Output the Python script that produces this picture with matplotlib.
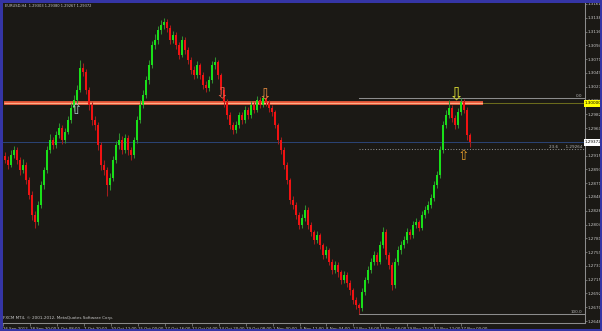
import matplotlib
matplotlib.use("Agg")
import matplotlib.pyplot as plt
import matplotlib.transforms as mtransforms
from matplotlib.patches import Rectangle
import numpy as np

# EURUSD H4, prices
first_open = 1.2915
closes = [
    1.2909, 1.2901, 1.2917, 1.2925, 1.2909, 1.2892, 1.2901, 1.2876, 1.2852, 1.2820,
    1.2808, 1.2836, 1.2868, 1.2892, 1.2925, 1.2941, 1.2933, 1.2949, 1.2960, 1.2941,
    1.2954, 1.2973, 1.2993, 1.3006, 1.3022, 1.3057, 1.3051, 1.3022, 1.2998, 1.2973,
    1.2965, 1.2933, 1.2901, 1.2892, 1.2868, 1.2880, 1.2909, 1.2933, 1.2941, 1.2925,
    1.2944, 1.2925, 1.2917, 1.2941, 1.2973, 1.2998, 1.3014, 1.3038, 1.3062, 1.3095,
    1.3103, 1.3119, 1.3127, 1.3132, 1.3122, 1.3103, 1.3111, 1.3095, 1.3079, 1.3103,
    1.3087, 1.3070, 1.3054, 1.3046, 1.3062, 1.3046, 1.3030, 1.3025, 1.3038, 1.3062,
    1.3067, 1.3046, 1.3022, 1.3002, 1.2981, 1.2965, 1.2957, 1.2965, 1.2981, 1.2973,
    1.2990, 1.2981, 1.2998, 1.2990, 1.3006, 1.2998, 1.3009, 1.3001, 1.2993, 1.2986,
    1.2965, 1.2941, 1.2925, 1.2901, 1.2876, 1.2844, 1.2836, 1.2820, 1.2803, 1.2815,
    1.2828, 1.2803, 1.2792, 1.2779, 1.2787, 1.2771, 1.2755, 1.2763, 1.2744, 1.2731,
    1.2739, 1.2727, 1.2714, 1.2723, 1.2710, 1.2698, 1.2682, 1.2674, 1.2669, 1.2695,
    1.2714, 1.2731, 1.2744, 1.2755, 1.2744, 1.2771, 1.2792, 1.2755, 1.2739, 1.2706,
    1.2744, 1.2763, 1.2771, 1.2779, 1.2792, 1.2787, 1.2803, 1.2808, 1.2799, 1.2820,
    1.2828, 1.2836, 1.2847, 1.2868, 1.2884, 1.2925, 1.2965, 1.2981, 1.2993, 1.2977,
    1.2965, 1.2986, 1.3002, 1.2990, 1.2949, 1.2937]
highs = [
    1.2921, 1.2915, 1.2925, 1.2931, 1.2929, 1.2914, 1.2910, 1.2905, 1.2881, 1.2858,
    1.2826, 1.2842, 1.2875, 1.2898, 1.2932, 1.2950, 1.2946, 1.2955, 1.2968, 1.2965,
    1.2961, 1.2979, 1.3001, 1.3013, 1.3030, 1.3070, 1.3066, 1.3056, 1.3027, 1.3003,
    1.2980, 1.2970, 1.2938, 1.2908, 1.2897, 1.2887, 1.2915, 1.2940, 1.2952, 1.2947,
    1.2950, 1.2949, 1.2930, 1.2946, 1.2980, 1.3005, 1.3022, 1.3044, 1.3070, 1.3101,
    1.3112, 1.3126, 1.3135, 1.3139, 1.3136, 1.3127, 1.3118, 1.3116, 1.3100, 1.3110,
    1.3108, 1.3092, 1.3076, 1.3060, 1.3068, 1.3066, 1.3051, 1.3036, 1.3044, 1.3068,
    1.3075, 1.3071, 1.3050, 1.3026, 1.3007, 1.2986, 1.2970, 1.2971, 1.2987, 1.2986,
    1.2996, 1.2995, 1.3004, 1.3003, 1.3012, 1.3010, 1.3014, 1.3016, 1.3005, 1.2998,
    1.2990, 1.2969, 1.2946, 1.2930, 1.2905, 1.2880, 1.2850, 1.2840, 1.2825, 1.2821,
    1.2835, 1.2832, 1.2808, 1.2796, 1.2793, 1.2791, 1.2775, 1.2769, 1.2767, 1.2749,
    1.2745, 1.2743, 1.2731, 1.2729, 1.2727, 1.2714, 1.2702, 1.2687, 1.2678, 1.2701,
    1.2720, 1.2737, 1.2750, 1.2762, 1.2759, 1.2777, 1.2800, 1.2797, 1.2760, 1.2743,
    1.2750, 1.2769, 1.2777, 1.2786, 1.2798, 1.2797, 1.2810, 1.2815, 1.2812, 1.2826,
    1.2834, 1.2843, 1.2853, 1.2874, 1.2890, 1.2932, 1.2971, 1.2990, 1.3005, 1.2998,
    1.2982, 1.2992, 1.3009, 1.3007, 1.2994, 1.2953]
lows = [
    1.2903, 1.2894, 1.2897, 1.2912, 1.2902, 1.2885, 1.2887, 1.2870, 1.2846, 1.2812,
    1.2799, 1.2803, 1.2831, 1.2862, 1.2888, 1.2920, 1.2926, 1.2928, 1.2944, 1.2935,
    1.2936, 1.2950, 1.2968, 1.2988, 1.3001, 1.3018, 1.3044, 1.3015, 1.2990, 1.2966,
    1.2957, 1.2925, 1.2893, 1.2884, 1.2850, 1.2860, 1.2875, 1.2904, 1.2927, 1.2918,
    1.2920, 1.2917, 1.2908, 1.2912, 1.2936, 1.2969, 1.2993, 1.3009, 1.3032, 1.3057,
    1.3088, 1.3097, 1.3112, 1.3120, 1.3115, 1.3096, 1.3098, 1.3088, 1.3072, 1.3075,
    1.3080, 1.3064, 1.3047, 1.3040, 1.3041, 1.3039, 1.3024, 1.3018, 1.3020, 1.3033,
    1.3056, 1.3040, 1.3016, 1.2995, 1.2975, 1.2958, 1.2950, 1.2952, 1.2960, 1.2967,
    1.2969, 1.2975, 1.2977, 1.2984, 1.2986, 1.2992, 1.2994, 1.2996, 1.2987, 1.2980,
    1.2960, 1.2935, 1.2918, 1.2894, 1.2869, 1.2838, 1.2829, 1.2813, 1.2797, 1.2798,
    1.2810, 1.2797, 1.2786, 1.2772, 1.2774, 1.2765, 1.2748, 1.2750, 1.2738, 1.2724,
    1.2726, 1.2720, 1.2708, 1.2709, 1.2703, 1.2691, 1.2676, 1.2667, 1.2659, 1.2664,
    1.2690, 1.2709, 1.2726, 1.2739, 1.2738, 1.2740, 1.2766, 1.2749, 1.2732, 1.2698,
    1.2701, 1.2739, 1.2757, 1.2766, 1.2774, 1.2781, 1.2783, 1.2798, 1.2793, 1.2795,
    1.2815, 1.2823, 1.2831, 1.2842, 1.2863, 1.2880, 1.2920, 1.2960, 1.2976, 1.2970,
    1.2958, 1.2960, 1.2982, 1.2984, 1.2941, 1.2930]

price_ticks = [1.31610, 1.31387, 1.31164, 1.30941, 1.30718, 1.30495, 1.30272, 1.30049,
               1.29826, 1.29603, 1.29380, 1.29157, 1.28934, 1.28711, 1.28488, 1.28265,
               1.28042, 1.27819, 1.27596, 1.27373, 1.27150, 1.26927, 1.26704, 1.26481]
time_bars = [0, 9, 18, 27, 36, 45, 54, 63, 72, 81, 90, 99, 108, 117, 126, 135, 144, 153]
time_labels = ["26 Sep 2012", "28 Sep 20:00", "3 Oct 08:00", "7 Oct 20:00", "10 Oct 12:00",
               "15 Oct 00:00", "17 Oct 16:00", "22 Oct 04:00", "24 Oct 20:00", "29 Oct 08:00",
               "1 Nov 00:00", "5 Nov 12:00", "8 Nov 04:00", "12 Nov 16:00", "15 Nov 08:00",
               "19 Nov 20:00", "22 Nov 12:00", "27 Nov 00:00"]

header = "EURUSD,H4  1.29303 1.29380 1.29267 1.29372"
credit = "FXCM MT4, \u00a9 2001-2012, MetaQuotes Software Corp."

level_price = 1.30000
level_end_bar = 159.5
bid_price = 1.29372
fib_start_bar = 118
fib_prices = [1.30089, 1.29264, 1.26594]
fib_names = ["0.0", "23.6", "100.0"]

# signal arrows: bar, price, glyph, colour, size
arrow_bars = [23.5, 72.2, 86.5, 150.5, 152.8]
arrow_prices = [1.29905, 1.30160, 1.30145, 1.30150, 1.29150]
arrow_glyphs = ["\u21e7", "\u21e9", "\u21e9", "\u21e9", "\u21e7"]
arrow_colors = ["#a9c3c3", "#e0604a", "#e08840", "#d4d431", "#e09a2a"]
arrow_sizes = [11, 11, 11, 13, 10]

bg = "#1b1915"
grey = "#8c8c8c"
txt = "#c8c8c8"
fs = 3.0

fig = plt.figure(figsize=(6.02, 3.31), dpi=100, facecolor=bg)
ax = fig.add_axes([3 / 602, 8 / 331, 582 / 602, 321 / 331])
ax.set_facecolor(bg)

c = np.array(closes)
h = np.array(highs)
l = np.array(lows)
o = np.array([first_open] + closes[:-1])
x = np.arange(len(c))
up = c >= o

ax.vlines(x[up], l[up], h[up], color="#2f8f2f", lw=0.75, zorder=3)
ax.vlines(x[~up], l[~up], h[~up], color="#a51c1c", lw=0.75, zorder=3)
ax.bar(x[up], (c - o)[up], bottom=o[up], width=0.67, color="#19e019", lw=0, zorder=4)
ax.bar(x[~up], (c - o)[~up], bottom=o[~up], width=0.67, color="#f01212", lw=0, zorder=4)

# horizontal levels
ax.plot([-0.5, level_end_bar], [level_price, level_price], color="#ee5a3a", lw=2.7,
        solid_capstyle="butt", zorder=2)
ax.plot([-0.5, level_end_bar], [level_price, level_price], color="#ffae88", lw=0.8,
        solid_capstyle="butt", zorder=2)
ax.plot([level_end_bar, 193.5], [level_price, level_price], color="#6b6b1c", lw=0.75, zorder=2)
ax.axhline(bid_price, color="#2a4272", lw=0.75, zorder=1)

trans = mtransforms.blended_transform_factory(ax.transAxes, ax.transData)
for price, name in zip(fib_prices, fib_names):
    ls = ":" if name == "23.6" else "-"
    ax.plot([fib_start_bar, 193.5], [price, price], color=grey, lw=0.75, ls=ls, zorder=2)
    label = name if name != "23.6" else "23.6      %.5f" % price
    ax.text(0.996, price + 0.00006, label, transform=trans, ha="right", va="bottom",
            fontsize=fs, color="#b4b4b4")

for bx, bp, g, col, sz in zip(arrow_bars, arrow_prices, arrow_glyphs, arrow_colors, arrow_sizes):
    ax.text(bx, bp, g, ha="center", va="center", fontsize=sz, color=col, zorder=6)

ax.set_xlim(-0.5, 193.5)
ax.set_ylim(1.26449, 1.31642)

for side in ["top", "left"]:
    ax.spines[side].set_visible(False)
for side in ["right", "bottom"]:
    ax.spines[side].set_color(grey)
    ax.spines[side].set_linewidth(0.75)

# the bid tag hides the scale label underneath it
ax.yaxis.tick_right()
ax.set_yticks(price_ticks)
ax.set_yticklabels(["" if abs(p - bid_price) < 0.0005 else "%.5f" % p for p in price_ticks],
                   fontsize=fs, color=txt)
ax.tick_params(axis="y", length=1.5, width=0.5, color=grey, pad=0.6)

ax.set_xticks([b - 0.8 for b in time_bars])
ax.set_xticklabels(time_labels, fontsize=2.8, color=txt, ha="left")
ax.tick_params(axis="x", length=2.5, width=0.5, color=grey, pad=0.2)

# price tags on the scale
ax.text(1.0, level_price, "%.5f" % level_price, transform=trans, ha="left", va="center",
        fontsize=fs, color="black",
        bbox=dict(boxstyle="square,pad=0.35", fc="#ffff00", ec="none"), zorder=7)
ax.text(1.0, bid_price, "%.5f" % bid_price, transform=trans, ha="left", va="center",
        fontsize=fs, color="black",
        bbox=dict(boxstyle="square,pad=0.35", fc="#ffffff", ec="none"), zorder=7)

fig.text(5 / 602, 1 - 6 / 331, header, fontsize=2.6, color=txt, va="center")
fig.text(3 / 602, 1 - 318 / 331, credit, fontsize=3.0, color=txt, va="center")

fig.patches.append(Rectangle((0, 0), 1, 1, transform=fig.transFigure, fill=False,
                             ec="#3535a5", lw=3.6, zorder=10))

fig.savefig("out.png", dpi=100, facecolor=bg)
